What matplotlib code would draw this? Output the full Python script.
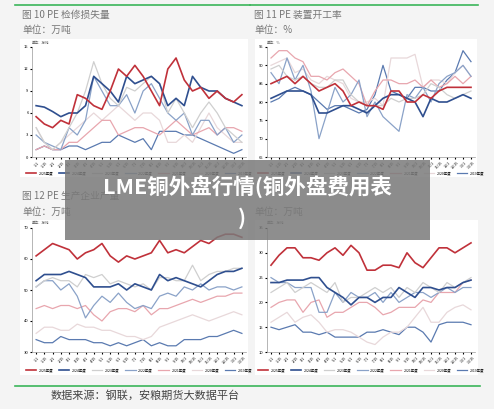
import matplotlib
matplotlib.use("Agg")
import matplotlib.pyplot as plt
from matplotlib.patches import Rectangle
from matplotlib.lines import Line2D

plt.rcParams['font.family'] = ['Noto Sans CJK SC', 'DejaVu Sans']

years = ["2025年度", "2024年度", "2023年度", "2022年度", "2021年度", "2020年度", "2019年度"]
colors = ["#c0313a", "#2f4f8f", "#cfcfcf", "#8aa2c8", "#e8a6ae", "#e8d8da", "#5a7ab0"]
widths = [1.2, 1.2, 0.9, 0.9, 0.9, 0.9, 0.9]
weeks = [f"{(i*2)//4+1}/{(i*2)%4*7+1}" for i in range(26)]

loss = [
    [5.5,4.5,4.0,5,4.5,8.5,8,7,6.5,9,12,11,12.5,11,9,7,12,13.5,10.5,9,9.5,8,9,8,7.5,8.5],
    [7,6.8,6.2,5.5,6,6,7,11,10,9,7.5,11,10,10.5,11,10,7,8,7,11,9.5,9,9,8,7.5,7],
    [4,2,1,2,4,6,9,13,10,8,7,9.5,9,10,11,10,6,8,6,4,6,7.5,6,4,3,2],
    [3,2,1.5,1,4,3,5,11,9,7,7,8.5,6,9,10,8,6,5,6,3,5,5,3,4,2,3],
    [1,1.5,1,1,2,2,3,4,5,5,3,3.5,4,4,3.5,3,4,5,4,3,3.5,4,3,4,4,3.5],
    [4,2,1,2,3,4,5,6,5,6,7,6,5,6,6,5,2,2,3,2,4,6,4,3,2,2],
    [1,1.5,1,1,1.5,1.5,1,1.5,2,2,3,2.5,2,2.5,1,3.5,3.5,3.5,3,3,2.5,2,1.5,1,0.5,1],
]
rate = [
    [85,86,87,85,87,85,83,84,85,83,79,80,79,79,78,83,83,80,80,82,81,83,84,84,84,84],
    [81,82,83,83,83,82,77,77,78,79,79,78,77,79,81,82,82,81,80,76,81,80,80,81,82,81],
    [89,90,87,86,87,85,84,84,86,86,82,80,79,79,79,81,80,81,81,82,85,84,82,81,82,83],
    [88,85,92,86,90,83,70,77,84,80,82,86,76,80,76,74,72,82,81,84,80,85,87,88,90,87],
    [92,94,94,92,91,87,87,86,88,89,87,85,79,83,86,86,85,85,86,84,86,84,85,87,85,87],
    [90,91,92,88,89,86,85,87,86,85,81,80,80,81,79,92,92,92,93,84,86,86,85,88,90,87],
    [80,81,83,84,83,82,80,78,79,79,78,77,78,82,90,83,82,81,84,84,83,83,86,88,94,91],
]
output = [
    [61,63,65,64,63,60,62,63,65,61,59,61,60,61,62,66,62,63,62,64,66,65,67,68,68,67],
    [53,55,55,55,56,55,54,51,51,51,52,50,52,51,50,55,53,54,53,52,51,53,55,56,56,57],
    [51,53,54,53,53,51,55,54,55,52,53,52,51,52,50,54,54,53,53,58,53,55,56,56,57,57],
    [51,53,53,50,52,48,41,45,48,46,49,46,44,45,44,48,49,48,51,50,52,50,51,51,50,51],
    [44,45,44,45,45,44,45,42,40,43,44,44,43,45,42,44,44,45,46,47,46,47,48,48,49,49],
    [36,38,38,37,37,39,38,38,37,37,36,35,35,34,35,38,39,40,41,42,41,40,41,42,43,42],
    [34,33,33,35,34,34,34,33,33,32,33,32,33,34,32,33,32,32,34,34,34,35,35,36,37,36],
]
output2 = [
    [27.5,29.5,31,31,29,29,28.5,30,31,29.5,31.5,30,26.5,26.5,27.5,27.5,27,30,28,27,29,31,31,30,31,32],
    [24,24,24.5,24.5,24.5,25,25,23,22,21,19.5,21,21,20,21,21,23,22,21,23,23,22.5,23,23,24,24.5],
    [22,23,24,22,23,24,23,22,24,20,21,21,22,23,22,23,21,23,22,24,23,22,24,23,24,25],
    [25,24,24,23,23,23,18,18,22,20,22,21,21,22,20,22,20,21,22,22,21,22,23,22,23,23],
    [19,20,20.5,20.5,18,20,20.5,17,18,18,19,20,20,19,17.5,18,19,19,19,20.5,20,22,22,22,24,24.5],
    [16,17,18,16,17,17.5,16,14,14.5,14.5,14,13,12,11.5,13,14,14,15,17,19,16,16,18,19,19.5,18.5],
    [15,14.5,15,15.5,14,14,13.5,14,13,13,13,13,14,14,14.5,14,13.5,15,15,14,12,15.5,16,16,16,15.5],
]

fig = plt.figure(figsize=(4.94, 4.09), dpi=100)
fig.patch.set_facecolor("#f4f4f4")
W, H = 494, 409

def px(x, y, w, h):
    return [x / W, 1 - (y + h) / H, w / W, h / H]

for (x0, x1, y) in [(15, 250, 5), (250, 478, 5), (15, 480, 386)]:
    fig.add_artist(Line2D([x0 / W, x1 / W], [1 - y / H] * 2, color="#3bb55a", lw=1.2))
for (x, y, w, h) in [(20, 39, 228, 138), (255, 39, 222, 138), (20, 220, 228, 155), (255, 220, 223, 155)]:
    fig.add_artist(Rectangle((x / W, 1 - (y + h) / H), w / W, h / H, facecolor="white", edgecolor="none", zorder=0))

tc = "#777777"
fig.text(22 / W, 1 - 15 / H, "图 10 PE 检修损失量", fontsize=7, color=tc, va="center")
fig.text(22 / W, 1 - 30 / H, "单位：万吨", fontsize=7, color=tc, va="center")
fig.text(254 / W, 1 - 15 / H, "图 11 PE 装置开工率", fontsize=7, color=tc, va="center")
fig.text(254 / W, 1 - 30 / H, "单位：%", fontsize=7, color=tc, va="center")
fig.text(22 / W, 1 - 196 / H, "图 12 PE 生产企业产量", fontsize=7, color=tc, va="center")
fig.text(22 / W, 1 - 212 / H, "单位：万吨", fontsize=7, color=tc, va="center")
fig.text(254 / W, 1 - 212 / H, "单位：万吨", fontsize=7, color=tc, va="center")
fig.text(145 / W, 1 - 395 / H, "数据来源：钢联，安粮期货大数据平台", fontsize=8, color="#444444", ha="center", va="center")

panels = [
    (loss, px(32, 47, 214, 110), (0, 15), 3, "单位：万吨", 173),
    (rate, px(267, 47, 208, 110), (65, 95), 5, "单位：%", 173),
    (output, px(32, 228, 214, 124), (30, 70), 10, "单位：万吨", 370),
    (output2, px(267, 228, 208, 124), (10, 35), 5, "单位：万吨", 370),
]
x = list(range(26))
for data, pos, ylim, step, unit, legy in panels:
    ax = fig.add_axes(pos)
    for i in range(6, -1, -1):
        ax.plot(x, data[i], color=colors[i], lw=widths[i], zorder=10 - i)
    ax.set_ylim(*ylim)
    ax.set_xlim(-0.5, 25.5)
    ax.set_yticks(list(range(ylim[0], ylim[1] + 1, step)))
    ax.set_xticks(x)
    ax.set_xticklabels(weeks, rotation=45, fontsize=2.5)
    ax.tick_params(axis="y", labelsize=3, length=1.5, pad=1)
    ax.tick_params(axis="x", length=1.5, pad=1)
    for s in ["top", "right"]:
        ax.spines[s].set_visible(False)
    for s in ["left", "bottom"]:
        ax.spines[s].set_color("#999999")
        ax.spines[s].set_linewidth(0.5)
    ax.text(0, 1.03, unit, transform=ax.transAxes, fontsize=2.5, color="#555555")
    handles = [Line2D([], [], color=colors[i], lw=widths[i]) for i in range(7)]
    fig.legend(handles, years, loc="center", bbox_to_anchor=(pos[0] + pos[2] / 2, 1 - legy / H),
               ncol=7, fontsize=2.5, frameon=False, handlelength=3, columnspacing=1.5)

fig.add_artist(Rectangle((65 / W, 1 - 240 / H), 365 / W, 80 / H, facecolor="#7a7a7a", alpha=0.85, edgecolor="none", zorder=50))
fig.text(247 / W, 1 - 187 / H, "LME铜外盘行情(铜外盘费用表", fontsize=15.5, fontweight="bold", color="white", ha="center", va="center", zorder=51)
fig.text(242 / W, 1 - 218 / H, ")", fontsize=15.5, fontweight="bold", color="white", ha="center", va="center", zorder=51)

fig.savefig("out.png", dpi=100, facecolor=fig.get_facecolor())
